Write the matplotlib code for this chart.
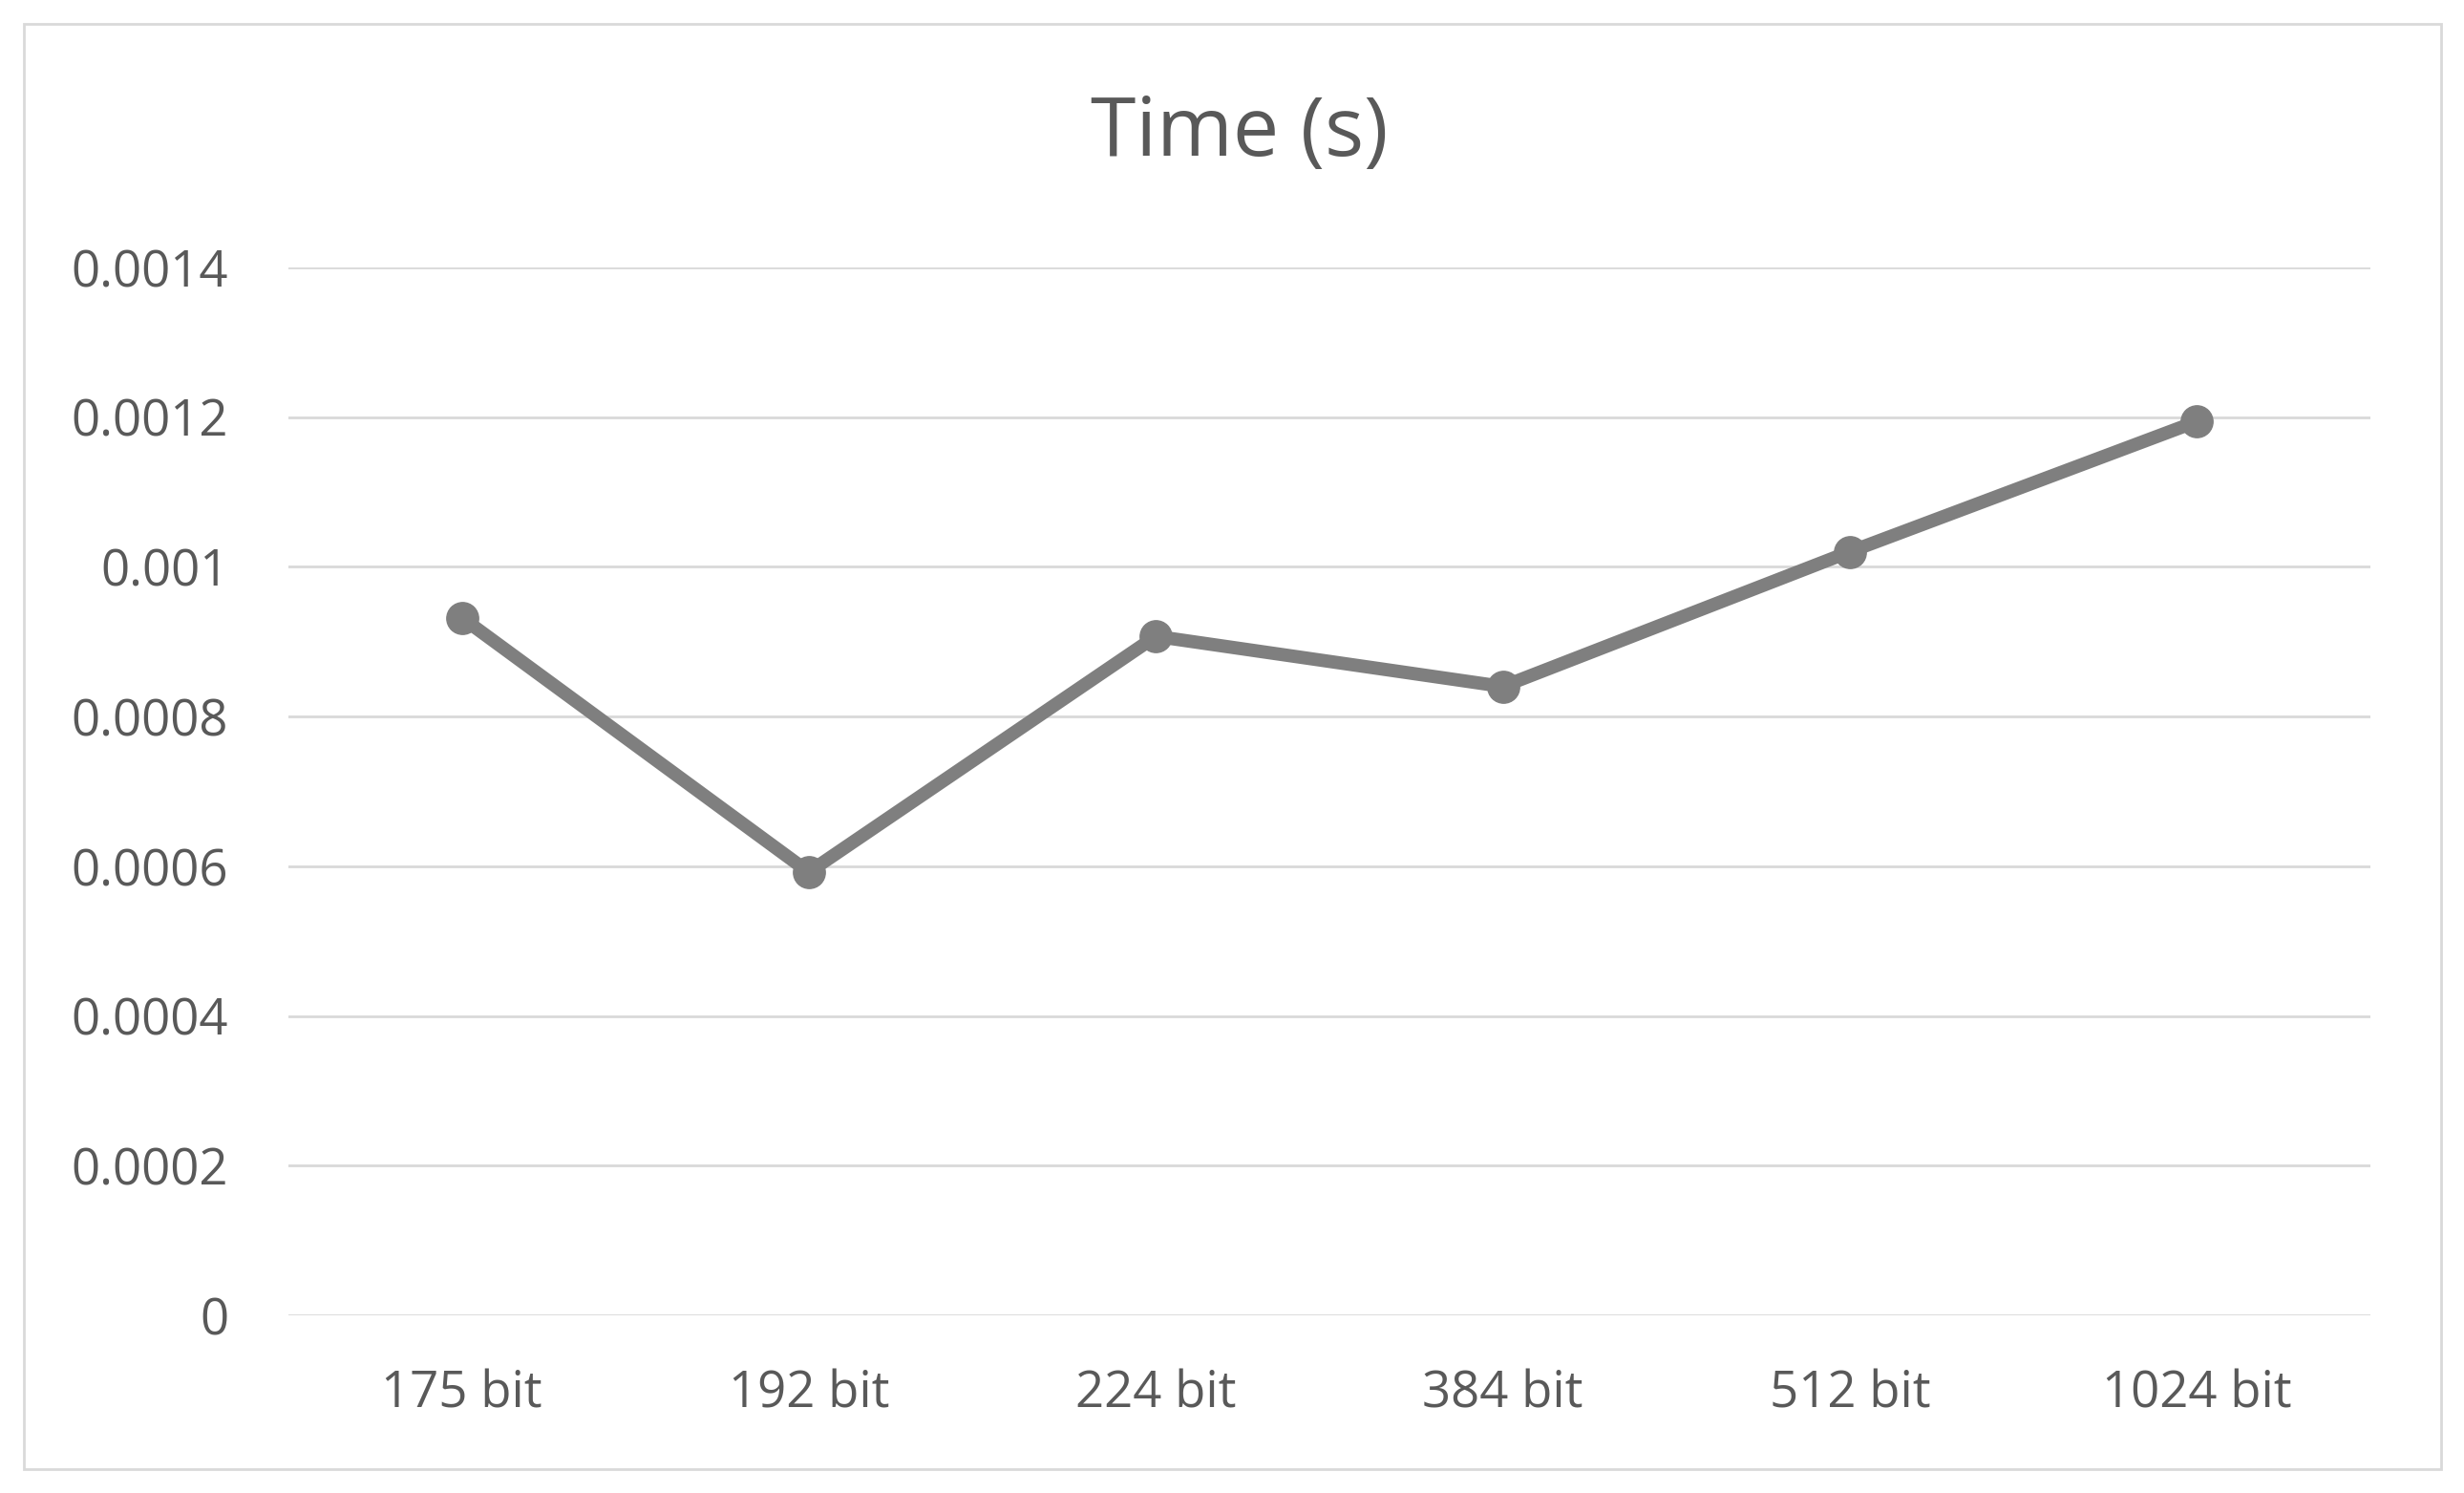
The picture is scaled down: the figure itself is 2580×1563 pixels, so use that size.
import matplotlib.pyplot as plt
from matplotlib.patches import Rectangle

# key sizes and measured times
categories = ['175 bit', '192 bit', '224 bit', '384 bit', '512 bit', '1024 bit']
times = [0.000932, 0.000592, 0.000907, 0.00084, 0.00102, 0.001194]

plt.rcParams['font.family'] = ['Open Sans', 'DejaVu Sans']
fig = plt.figure(figsize=(25.8, 15.63), dpi=100)
ax = fig.add_axes([0.117, 0.119, 0.845, 0.702])

x = list(range(len(categories)))
ax.plot(x, times, color='#7f7f7f', linewidth=10, marker='o', markersize=24,
        solid_capstyle='round', zorder=3)

ax.set_xlim(-0.5, len(categories) - 0.5)
ax.set_ylim(0, 0.0014)
ax.set_yticks([0, 0.0002, 0.0004, 0.0006, 0.0008, 0.001, 0.0012, 0.0014])
ax.set_yticklabels(['0', '0.0002', '0.0004', '0.0006', '0.0008', '0.001', '0.0012', '0.0014'])
ax.set_xticks(x)
ax.set_xticklabels(categories)
ax.tick_params(length=0, labelsize=38, labelcolor='#595959')
ax.tick_params(axis='x', pad=40)
ax.tick_params(axis='y', pad=45)
ax.grid(axis='y', color='#d9d9d9', linewidth=2)
ax.set_axisbelow(True)
for s in ax.spines.values():
    s.set_visible(False)

fig.text(0.503, 0.91, 'Time (s)', ha='center', va='center', fontsize=62, color='#595959')
fig.patches.append(Rectangle((0.0096, 0.016), 0.981, 0.968, transform=fig.transFigure,
                             fill=False, edgecolor='#d9d9d9', linewidth=2))

fig.savefig('out.png', dpi=100)
